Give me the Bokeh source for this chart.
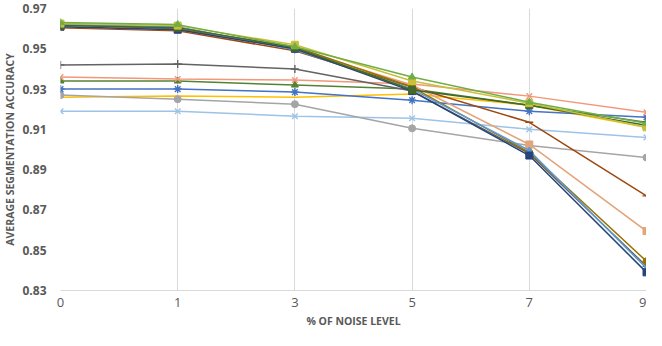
from bokeh.plotting import figure
from bokeh.models import Range1d, FixedTicker
from bokeh.embed import file_html
from bokeh.resources import INLINE

noise_levels = ["0", "1", "3", "5", "7", "9"]
y_ticks = [0.83, 0.85, 0.87, 0.89, 0.91, 0.93, 0.95, 0.97]

# series values (one list per line)
s_green      = [0.9630, 0.9620, 0.9510, 0.9360, 0.9235, 0.9130]
s_olive      = [0.9625, 0.9615, 0.9520, 0.9340, 0.9230, 0.9110]
s_darkgreen  = [0.9615, 0.9605, 0.9505, 0.9295, 0.9220, 0.9120]
s_lightblue  = [0.9620, 0.9610, 0.9495, 0.9300, 0.8995, 0.8410]
s_darkgold   = [0.9620, 0.9600, 0.9510, 0.9310, 0.8985, 0.8445]
s_tan        = [0.9610, 0.9595, 0.9500, 0.9320, 0.9025, 0.8595]
s_brown      = [0.9605, 0.9590, 0.9490, 0.9310, 0.9135, 0.8770]
s_navy       = [0.9610, 0.9595, 0.9500, 0.9290, 0.8970, 0.8390]
s_darkgray   = [0.9420, 0.9425, 0.9400, 0.9290, 0.8980, 0.8420]
s_salmon     = [0.9360, 0.9350, 0.9345, 0.9325, 0.9265, 0.9185]
s_olivetri   = [0.9340, 0.9340, 0.9320, 0.9300, 0.9220, 0.9135]
s_blue       = [0.9300, 0.9300, 0.9285, 0.9245, 0.9190, 0.9160]
s_gray       = [0.9270, 0.9250, 0.9225, 0.9105, 0.9020, 0.8960]
s_yellow     = [0.9260, 0.9265, 0.9260, 0.9275, 0.9220, 0.9110]
s_paleblue   = [0.9190, 0.9190, 0.9165, 0.9155, 0.9100, 0.9060]

series = [
    (s_paleblue, "#9DC3E6", "x"),
    (s_yellow, "#FFC000", None),
    (s_gray, "#A5A5A5", "circle"),
    (s_blue, "#4472C4", "asterisk"),
    (s_olivetri, "#548235", "triangle"),
    (s_salmon, "#F1977A", "x"),
    (s_darkgray, "#636363", "cross"),
    (s_brown, "#9E480E", "dash"),
    (s_tan, "#E3A47A", "square"),
    (s_darkgold, "#997300", "circle"),
    (s_lightblue, "#5B9BD5", "diamond"),
    (s_navy, "#264478", "square"),
    (s_darkgreen, "#43682B", "square"),
    (s_olive, "#C9C03A", "square"),
    (s_green, "#70AD47", "triangle"),
]

x_idx = list(range(len(noise_levels)))

p = figure(width=646, height=330, output_backend="svg", toolbar_location=None,
           x_range=Range1d(0, len(noise_levels) - 1), y_range=Range1d(y_ticks[0], y_ticks[-1]),
           min_border_left=0, min_border_right=0, min_border_top=8, min_border_bottom=0)
p.outline_line_color = None
p.background_fill_color = "white"
p.border_fill_color = "white"

for vals, col, mk in series:
    p.line(x_idx, vals, line_color=col, line_width=1.5)
    if mk is not None:
        if mk in ("x", "asterisk", "cross", "dash"):
            p.scatter(x_idx, vals, marker=mk, size=8, line_color=col, line_width=1.4)
        else:
            p.scatter(x_idx, vals, marker=mk, size=7, fill_color=col, line_color=col)

p.xaxis.ticker = FixedTicker(ticks=x_idx)
p.xaxis.major_label_overrides = {i: lab for i, lab in enumerate(noise_levels)}
p.yaxis.ticker = FixedTicker(ticks=y_ticks)
p.yaxis.major_label_overrides = {t: f"{t:.2f}" for t in y_ticks}

p.xgrid.ticker = FixedTicker(ticks=x_idx)
p.xgrid.grid_line_color = "#D9D9D9"
p.ygrid.grid_line_color = None

p.xaxis.axis_line_color = "#D9D9D9"
p.xaxis.axis_line_width = 1.2
p.yaxis.axis_line_color = None
for ax in (p.xaxis, p.yaxis):
    ax.major_tick_line_color = None
    ax.minor_tick_line_color = None
    ax.major_tick_out = 0
    ax.major_tick_in = 0
    ax.major_label_text_color = "#595959"
    ax.major_label_text_font = "Open Sans"
    ax.axis_label_text_color = "#595959"
    ax.axis_label_text_font = "Open Sans"
    ax.axis_label_text_font_style = "bold"
    ax.axis_label_text_font_size = "10.5px"

p.xaxis.major_label_text_font_size = "13px"
p.yaxis.major_label_text_font_size = "12px"
p.yaxis.major_label_text_font_style = "bold"
p.yaxis.major_label_standoff = 14
p.xaxis.major_label_standoff = 7
p.xaxis.axis_label = "% OF NOISE LEVEL"
p.xaxis.axis_label_standoff = 4
p.yaxis.axis_label = "AVERAGE SEGMENTATION ACCURACY"
p.yaxis.axis_label_standoff = 2

open("out.html", "w").write(file_html(p, INLINE))
